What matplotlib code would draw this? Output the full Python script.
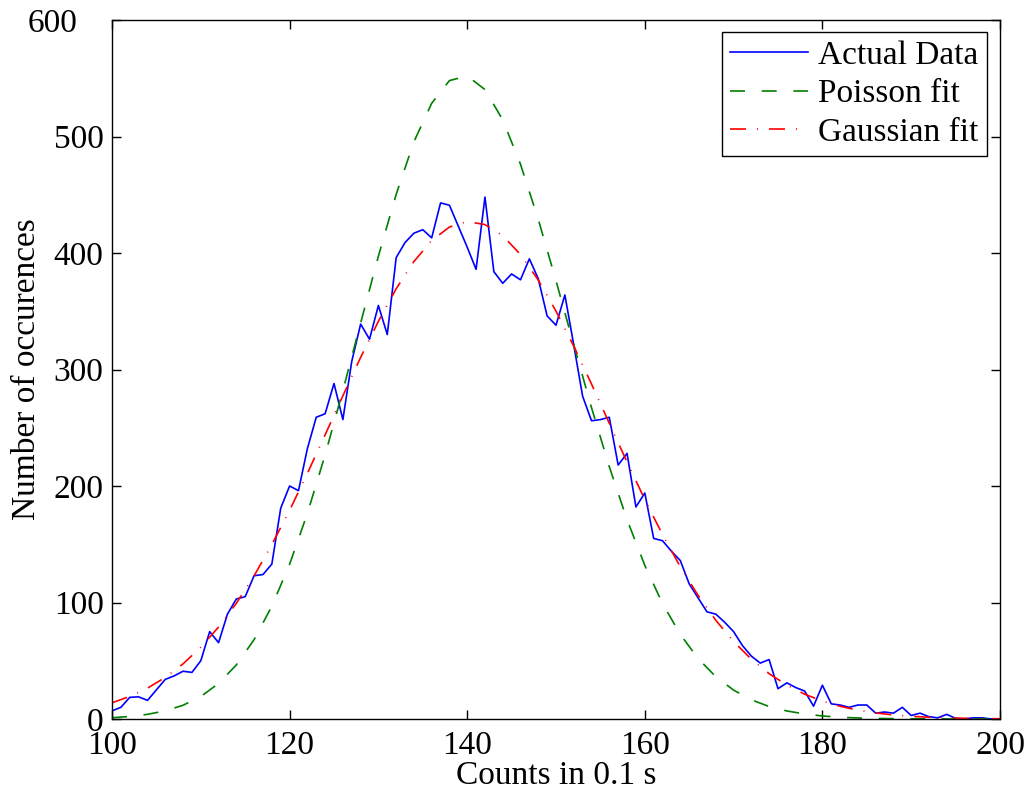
import matplotlib
matplotlib.use("Agg")
import matplotlib.pyplot as plt
from matplotlib.transforms import ScaledTranslation

# ---- data ----
counts = list(range(100, 201))
actual = [7, 10, 18.6, 19, 16, 25, 34, 37, 41, 40,
          50, 75, 65.5, 90, 103, 105, 123, 124, 133, 181,
          200, 196, 232, 259, 262, 288, 257, 307, 339, 326,
          355, 330, 396, 409, 417, 420, 413, 443, 441, 423,
          405, 386, 448, 384, 374, 382, 377, 395, 378, 346,
          338, 364, 321, 277, 256, 257, 259, 218, 228, 182,
          194, 155, 153, 144, 136, 116, 104, 92, 90, 83,
          75, 63, 54, 48, 51, 26, 31, 27, 24, 11,
          29, 13, 12, 10, 12, 12, 5, 6, 5, 10,
          3, 5, 2, 1, 4, 0.5, 0, 1, 1, 0, 0]

fit_x = [100, 102, 104, 106, 108, 110, 112, 114, 116, 118,
         120, 122, 124, 126, 128, 130, 132, 134, 136, 138,
         140, 142, 144, 146, 148, 150, 152, 154, 156, 158,
         160, 162, 164, 166, 168, 170, 172, 174, 176, 178,
         180, 182, 184, 186, 188, 190, 192, 194, 196, 198, 200]

poisson_fit = [1.1, 2.2, 4.0, 7.0, 11.8, 19.3, 30.5, 46.4, 68.1, 96.8,
               132.8, 176.4, 226.7, 281.9, 339.9, 397.3, 450.3, 495.5, 528.5, 548.0,
               552.0, 540.3, 514.3, 476.2, 429.0, 376.2, 321.3, 267.2, 216.6, 171.1,
               131.9, 99.0, 72.6, 51.9, 36.3, 24.8, 16.5, 10.7, 6.9, 4.3,
               2.6, 1.5, 0.9, 0.5, 0.3, 0.2, 0.1, 0.05, 0.02, 0.01, 0.005]

gauss_fit = [13.9, 19.4, 26.5, 35.7, 47.3, 61.6, 78.9, 99.3, 122.9, 149.7,
             179.1, 210.8, 243.9, 277.4, 310.4, 341.4, 369.3, 392.7, 410.7, 422.3,
             427.0, 424.4, 414.9, 398.7, 376.8, 350.1, 320.0, 287.5, 253.9, 220.6,
             188.4, 158.2, 130.7, 106.1, 84.7, 66.5, 51.3, 38.9, 29.1, 21.3,
             15.4, 10.9, 7.6, 5.2, 3.5, 2.3, 1.5, 1.0, 0.6, 0.4, 0.2]

x_ticks = [100, 120, 140, 160, 180, 200]
y_ticks = [0, 100, 200, 300, 400, 500, 600]

plt.rcParams['font.family'] = ['Liberation Serif', 'DejaVu Serif']
FS = 24

fig = plt.figure(figsize=(10.28, 7.97), dpi=100)
ax = fig.add_axes([112/1028, 1 - 719/797, (1000-112)/1028, (719-20)/797])

lw = 1.2
ax.plot(counts, actual, color=(0, 0, 1), lw=lw, label='Actual Data')
ax.plot(fit_x, poisson_fit, color=(0, 0.5, 0), lw=lw,
        linestyle=(0, (9, 10)), label='Poisson fit')
ax.plot(fit_x, gauss_fit, color=(1, 0, 0), lw=lw,
        linestyle=(0, (9.6, 6.6, 0.6, 6.6)), label='Gaussian fit')

ax.set_xlim(100, 200)
ax.set_ylim(0, 600)
ax.set_xticks(x_ticks)
ax.set_yticks(y_ticks)
ax.tick_params(direction='in', length=6.5, width=1.0, top=True, right=True,
               labelsize=FS)
ax.tick_params(axis='y', pad=6)
ax.tick_params(axis='x', pad=8)
for s in ax.spines.values():
    s.set_linewidth(1.0)

# the top "600" y tick label sits further left in the reference
top_lab = ax.yaxis.get_major_ticks()[-1].label1
top_lab.set_transform(top_lab.get_transform() +
                      ScaledTranslation(-19 / 72, 0, fig.dpi_scale_trans))

ax.set_xlabel('Counts in 0.1 s', fontsize=FS)
ax.set_ylabel('Number of occurences', fontsize=FS)
ax.xaxis.set_label_coords(0.5, (719 - 761) / 699)
ax.yaxis.set_label_coords((42 - 112) / 888, 0.5)

leg = ax.legend(loc='upper right', fontsize=FS, frameon=True, fancybox=False,
                edgecolor='black', framealpha=1, borderpad=0.25,
                labelspacing=0.24, handlelength=2.35, handletextpad=0.3,
                borderaxespad=0,
                bbox_to_anchor=((987 - 112) / 888, (719 - 32) / 699))
leg.get_frame().set_linewidth(1.0)

fig.savefig('out.png', dpi=100)
